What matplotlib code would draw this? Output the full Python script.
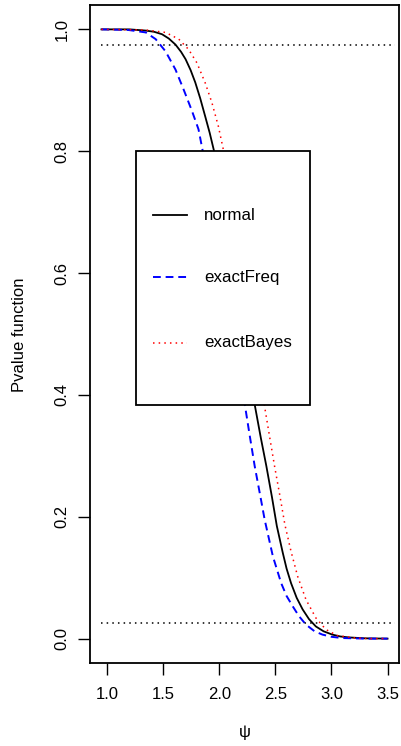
import matplotlib
matplotlib.use("Agg")
import matplotlib.pyplot as plt
from matplotlib.patches import Rectangle

plt.rcParams['font.family'] = ['Liberation Sans', 'DejaVu Sans']

# pvalue functions
psi_normal = [0.95, 1.20, 1.345, 1.42, 1.49, 1.55, 1.61, 1.66, 1.70, 1.745, 1.786,
              1.83, 1.875, 1.915, 1.954, 2.05, 2.15, 2.25, 2.316, 2.37, 2.42, 2.47,
              2.513, 2.566, 2.60, 2.64, 2.69, 2.743, 2.80, 2.861, 2.93, 3.008, 3.08,
              3.155, 3.30, 3.50]
p_normal = [1.0, 1.0, 0.998, 0.996, 0.992, 0.985, 0.975, 0.963, 0.951, 0.933, 0.913,
            0.887, 0.857, 0.830, 0.800, 0.710, 0.600, 0.470, 0.384, 0.330, 0.283, 0.232,
            0.185, 0.141, 0.115, 0.091, 0.067, 0.048, 0.032, 0.020, 0.012, 0.0066, 0.0035,
            0.002, 0.0005, 0.0]

psi_freq = [0.95, 1.19, 1.345, 1.433, 1.521, 1.61, 1.683, 1.757, 1.815, 1.851, 1.95,
            2.05, 2.15, 2.228, 2.27, 2.316, 2.37, 2.405, 2.478, 2.552, 2.60, 2.655,
            2.71, 2.773, 2.85, 2.92, 3.00, 3.096, 3.30, 3.50]
p_freq = [1.0, 0.999, 0.995, 0.984, 0.964, 0.934, 0.901, 0.866, 0.836, 0.802, 0.700,
          0.590, 0.470, 0.384, 0.335, 0.283, 0.230, 0.195, 0.135, 0.091, 0.070, 0.053,
          0.037, 0.023, 0.012, 0.0066, 0.003, 0.001, 0.0, 0.0]

psi_bayes = [0.95, 1.345, 1.521, 1.639, 1.727, 1.801, 1.875, 1.934, 1.992, 2.036, 2.13,
             2.23, 2.33, 2.405, 2.45, 2.493, 2.54, 2.585, 2.64, 2.699, 2.773, 2.861,
             2.95, 3.052, 3.215, 3.35, 3.50]
p_bayes = [1.0, 0.999, 0.995, 0.984, 0.967, 0.945, 0.912, 0.880, 0.841, 0.803, 0.710,
           0.600, 0.470, 0.380, 0.330, 0.283, 0.235, 0.187, 0.143, 0.102, 0.064, 0.034,
           0.015, 0.005, 0.001, 0.0, 0.0]

hline_levels = [0.025, 0.975]
hline_x = [0.95, 3.57]

labels = ["normal", "exactFreq", "exactBayes"]
xticks = [1.0, 1.5, 2.0, 2.5, 3.0, 3.5]
yticks = [0.0, 0.2, 0.4, 0.6, 0.8, 1.0]

W, H = 402, 746
fig = plt.figure(figsize=(W / 100, H / 100), dpi=100)
ax = fig.add_axes([90 / W, 1 - 663 / H, 309 / W, 658 / H])

styles = [dict(color="black", lw=1.3, ls="-"),
          dict(color="blue", lw=1.4, ls=(0, (4, 2.5))),
          dict(color="red", lw=1.1, ls=(0, (1, 2.7)))]

ax.plot(psi_normal, p_normal, **styles[0])
ax.plot(psi_freq, p_freq, **styles[1])
ax.plot(psi_bayes, p_bayes, **styles[2])
for lev in hline_levels:
    ax.plot(hline_x, [lev, lev], color="black", lw=1.1, ls=(0, (1, 2.7)))

ax.set_xlim(0.848, 3.602)
ax.set_ylim(-0.04, 1.04)
ax.set_xticks(xticks)
ax.set_xticklabels([f"{t:.1f}" for t in xticks])
ax.set_yticks(yticks)
ax.set_yticklabels([f"{t:.1f}" for t in yticks], rotation=90, va="center")
ax.tick_params(length=8.6, width=1.0, labelsize=12, colors="black")
ax.tick_params(axis="x", pad=8.5)
ax.tick_params(axis="y", pad=6)
for s in ax.spines.values():
    s.set_linewidth(1.3)

# legend box (R style, drawn by hand)
ax.add_patch(Rectangle((1.262, 0.384), 1.549, 0.416, facecolor="white",
                       edgecolor="black", lw=1.3, zorder=5))
rows = [0.6946, 0.593, 0.486]
for lab, st, yy in zip(labels, styles, rows):
    ax.plot([1.406, 1.716], [yy, yy], zorder=6, **st)
    ax.text(1.866, yy, lab, va="center", ha="left", fontsize=12.2, zorder=6)

fig.text(20 / W, 1 - 335 / H, "Pvalue function", rotation=90, ha="center",
         va="center", fontsize=12)
fig.text(244.5 / W, 1 - 733 / H, "\u03c8", ha="center", va="center", fontsize=12)

fig.savefig("out.png", dpi=100)
